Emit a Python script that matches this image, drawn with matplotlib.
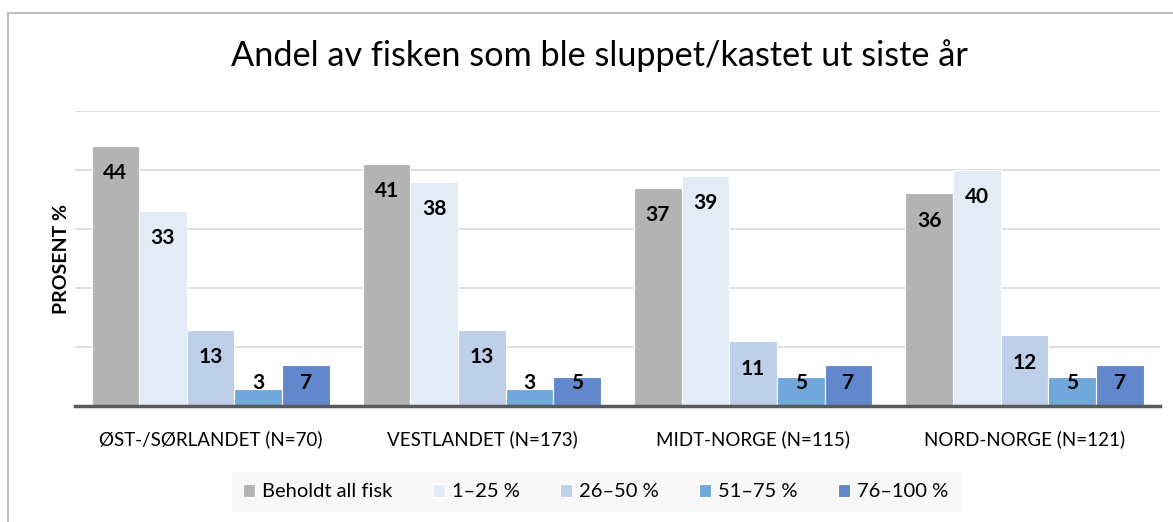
import matplotlib.pyplot as plt
import numpy as np
from matplotlib.lines import Line2D

# data
regions = ['ØST-/SØRLANDET (N=70)', 'VESTLANDET (N=173)', 'MIDT-NORGE (N=115)', 'NORD-NORGE (N=121)']
series = ['Beholdt all fisk', '1–25 %', '26–50 %', '51–75 %', '76–100 %']
beholdt = [44, 41, 37, 36]
p1_25 = [33, 38, 39, 40]
p26_50 = [13, 13, 11, 12]
p51_75 = [3, 3, 5, 5]
p76_100 = [7, 5, 7, 7]
colors = ['#B3B3B3', '#E2ECF7', '#BECFEA', '#70A8DB', '#6287CD']

plt.rcParams['font.family'] = ['Lato', 'DejaVu Sans']

fig = plt.figure(figsize=(11.73, 5.22), dpi=100)
ax = fig.add_axes([0.0639, 0.2213, 0.9251, 0.5667])

x = np.arange(len(regions))
w = 0.1756
values = [beholdt, p1_25, p26_50, p51_75, p76_100]
for i, (vals, name, c) in enumerate(zip(values, series, colors)):
    pos = x + (i - 2) * w
    ax.bar(pos, vals, width=w, color=c, edgecolor='white', linewidth=0.8, label=name, zorder=2)
    for px, v in zip(pos, vals):
        ax.text(px, max(v - 4.6, 4.0), str(v), ha='center', va='center',
                fontsize=15, fontweight='bold', color='black', zorder=3)

ax.set_xlim(-0.5, 3.5)
ax.set_ylim(0, 50)
ax.set_yticks([10, 20, 30, 40, 50])
ax.set_yticklabels([])
ax.grid(axis='y', color='#D9D9D9', linewidth=1.2, zorder=0)
ax.tick_params(axis='both', length=0)
ax.set_xticks(x)
ax.set_xticklabels(regions, fontsize=13.5)
ax.tick_params(axis='x', pad=17)
for s in ['top', 'right', 'left']:
    ax.spines[s].set_visible(False)
ax.spines['bottom'].set_color('#595959')
ax.spines['bottom'].set_linewidth(2.5)
ax.spines['bottom'].set_zorder(4)

ax.set_ylabel('PROSENT %', fontsize=14, fontweight='bold', labelpad=0)

fig.text(0.511, 0.893, 'Andel av fisken som ble sluppet/kastet ut siste år',
         ha='center', va='center', fontsize=24.7)

leg = fig.legend(loc='center', bbox_to_anchor=(0.508, 0.058), ncol=5, fontsize=14.5,
                 frameon=True, fancybox=False, handlelength=0.6, handleheight=0.6,
                 columnspacing=2.0, handletextpad=0.35, borderpad=0.55)
leg.get_frame().set_facecolor('#F7F7F7')
leg.get_frame().set_edgecolor('#F7F7F7')

# outer chart border (top and left visible)
fig.add_artist(Line2D([8 / 1173, 1], [1 - 12.5 / 522, 1 - 12.5 / 522], color='#BFBFBF', linewidth=1.5))
fig.add_artist(Line2D([8 / 1173, 8 / 1173], [0, 1 - 12.5 / 522], color='#BFBFBF', linewidth=1.5))

plt.savefig('out.png', dpi=100)
